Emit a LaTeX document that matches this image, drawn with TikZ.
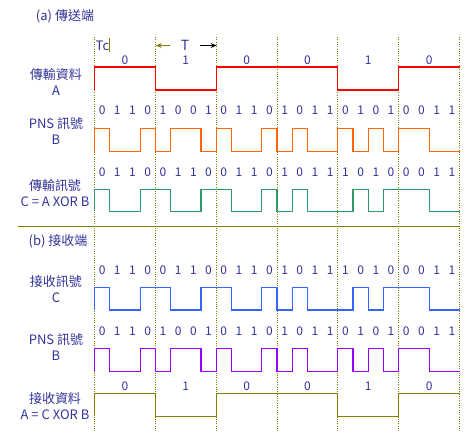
\documentclass[tikz,border=0pt]{standalone}
\usepackage{fontspec}
\setmainfont{Noto Sans CJK TC}
\usetikzlibrary{arrows.meta}
\definecolor{txtblue}{HTML}{333399}
\definecolor{olivec}{HTML}{808000}
\definecolor{orangec}{HTML}{FF6600}
\definecolor{greenc}{HTML}{339966}
\definecolor{bluec}{HTML}{3366FF}
\definecolor{purplec}{HTML}{9900FF}

% one waveform row: name, step, label y, high y, low y, colour, bits
\newcommand{\waverow}[7]{%
  \draw[wave, #6] (94.5,#5) \foreach \b [count=\i from 0] in {#7} {
      -- ({94.5+\i*#2},{#4+\b*(#5-#4)}) -- ({94.5+(\i+1)*#2},{#4+\b*(#5-#4)})};
  \foreach \b [count=\i from 0] in {#7}
    \node[chip] (#1-\i) at ({94.5+(\i+0.5)*#2},#3) {\b};
}

\begin{document}
\begin{tikzpicture}[x=1pt, y=-1pt,
        lbl/.style={text=txtblue, align=center, inner sep=0pt, font=\fontsize{13}{16}\selectfont},
        chip/.style={text=txtblue, inner sep=0pt, font=\fontsize{12}{12}\selectfont},
        bitline/.style={draw=olivec, line width=0.8pt, dash pattern=on 1pt off 1.3pt},
        wave/.style={line width=1.1pt}
    ]
    \useasboundingbox (0,0) rectangle (469,434);

    % bit boundaries
    \foreach \k in {0,...,6}
        \draw[bitline] ({94.5+\k*60.8333},37) -- ({94.5+\k*60.8333},431);

    % (a) transmitter
    \node[lbl] (secA) at (65,16) {(a) 傳送端};
    \node[lbl, anchor=west, font=\fontsize{13}{13}\selectfont] (Tc) at (95.5,45.5) {Tc};
    \draw[olivec, line width=1pt] (109.7,38) -- (109.7,52);
    \node[lbl, minimum width=30pt, font=\fontsize{14}{14}\selectfont] (T) at (185,45.5) {T};
    \coordinate (Tl) at (155.8,45.5);
    \coordinate (Tr) at (216.6,45.5);
    \draw[-{Stealth[length=6pt,width=5pt]}, olivec, line width=1pt] (T.west) -- (Tl);
    \draw[-{Stealth[length=6pt,width=5pt]}, black, line width=1pt] (T.east) -- (Tr);

    \node[lbl] (lblA) at (56,82) {傳輸資料\\A};
    \node[lbl] (lblB) at (56,131.5) {PNS 訊號\\B};
    \node[lbl] (lblC) at (55,192.7) {傳輸訊號\\C = A XOR B};
    \waverow{A}{60.8333}{60}{67}{90}{red}{0,1,0,0,1,0}
    \waverow{B}{15.2083}{110.7}{128.3}{151.7}{orangec}{0,1,1,0,1,0,0,1,0,1,1,0,1,0,1,1,0,1,0,1,0,0,1,1}
    \waverow{C}{15.2083}{172.3}{189.7}{211.3}{greenc}{0,1,1,0,0,1,1,0,0,1,1,0,1,0,1,1,1,0,1,0,0,0,1,1}

    \draw[olivec, line width=1pt] (18,226.7) -- (459.5,226.7);

    % (b) receiver
    \node[lbl] (secB) at (58,241.7) {(b) 接收端};
    \node[lbl] (lblCr) at (56,289.5) {接收訊號\\C};
    \node[lbl] (lblBr) at (56,347.5) {PNS 訊號\\B};
    \node[lbl] (lblAr) at (55,406) {接收資料\\A = C XOR B};
    \waverow{Cr}{15.2083}{270}{287.3}{310}{bluec}{0,1,1,0,0,1,1,0,0,1,1,0,1,0,1,1,1,0,1,0,0,0,1,1}
    \waverow{Br}{15.2083}{331.7}{348.3}{371.3}{purplec}{0,1,1,0,1,0,0,1,0,1,1,0,1,0,1,1,0,1,0,1,0,0,1,1}
    \waverow{Ar}{60.8333}{386}{393.3}{416.3}{olivec}{0,1,0,0,1,0}
\end{tikzpicture}
\end{document}
